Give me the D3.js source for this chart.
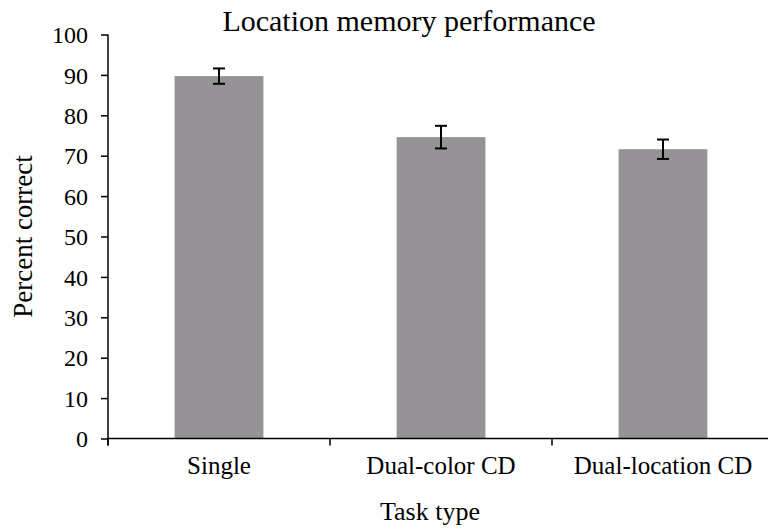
<!DOCTYPE html>
<html>
<head>
<meta charset="utf-8">
<script src="https://cdn.jsdelivr.net/npm/d3@7"></script>
<style>
  body { margin: 0; background: #fff; }
  svg text { font-family: "Liberation Serif", "Times New Roman", serif; fill: #000; }
</style>
</head>
<body>
<svg width="768" height="528"></svg>
<script>
var categories = ["Single", "Dual-color CD", "Dual-location CD"];
var values = [89.7, 74.6, 71.6];
var errors = [1.9, 2.8, 2.4];
var yTicks = [0, 10, 20, 30, 40, 50, 60, 70, 80, 90, 100];

var svg = d3.select("svg"),
    margin = {top: 34.5, right: -6, bottom: 89.5, left: 108},
    width = +svg.attr("width") - margin.left - margin.right,
    height = +svg.attr("height") - margin.top - margin.bottom,
    g = svg.append("g").attr("transform", "translate(" + margin.left + "," + margin.top + ")");

var x = d3.scaleBand()
    .domain(categories)
    .range([0, width])
    .paddingInner(0.6)
    .paddingOuter(0.3);

var y = d3.scaleLinear()
    .domain([0, 100])
    .range([height, 0]);

// bars
g.selectAll(".bar")
    .data(values)
  .enter().append("rect")
    .attr("class", "bar")
    .attr("x", function(d, i) { return x(categories[i]); })
    .attr("y", function(d) { return y(d); })
    .attr("width", x.bandwidth())
    .attr("height", function(d) { return height - y(d); })
    .attr("fill", "#959395");

// error bars
var eb = g.selectAll(".err")
    .data(values)
  .enter().append("g")
    .attr("class", "err")
    .attr("stroke", "#000")
    .attr("stroke-width", 2);

eb.append("line")
    .attr("x1", function(d, i) { return x(categories[i]) + x.bandwidth() / 2; })
    .attr("x2", function(d, i) { return x(categories[i]) + x.bandwidth() / 2; })
    .attr("y1", function(d, i) { return y(d + errors[i]); })
    .attr("y2", function(d, i) { return y(d - errors[i]); });

[1, -1].forEach(function(s) {
  eb.append("line")
      .attr("x1", function(d, i) { return x(categories[i]) + x.bandwidth() / 2 - 6; })
      .attr("x2", function(d, i) { return x(categories[i]) + x.bandwidth() / 2 + 6; })
      .attr("y1", function(d, i) { return y(d + s * errors[i]); })
      .attr("y2", function(d, i) { return y(d + s * errors[i]); });
});

// y axis
var yAxis = g.append("g")
    .call(d3.axisLeft(y).tickValues(yTicks).tickSize(7).tickPadding(13).tickSizeOuter(0));
yAxis.select(".domain").attr("d", "M0,0V" + (height + 7)).attr("stroke-width", 1.5);
yAxis.selectAll(".tick line").attr("stroke-width", 1.5);
yAxis.selectAll(".tick text")
    .style("font-size", "24px")
    .attr("dy", "0.34em");

// x axis: ticks between categories
var step = x.step();
var xb = g.append("g").attr("transform", "translate(0," + height + ")");
xb.append("line")
    .attr("x1", 0).attr("x2", width)
    .attr("stroke", "#000").attr("stroke-width", 1.5);
xb.selectAll(".xt")
    .data(d3.range(categories.length + 1))
  .enter().append("line")
    .attr("x1", function(i) { return i * step; })
    .attr("x2", function(i) { return i * step; })
    .attr("y1", 0).attr("y2", 7)
    .attr("stroke", "#000").attr("stroke-width", 1.5);
xb.selectAll(".xl")
    .data(categories)
  .enter().append("text")
    .attr("x", function(d) { return x(d) + x.bandwidth() / 2; })
    .attr("y", 35)
    .attr("text-anchor", "middle")
    .style("font-size", "25px")
    .text(function(d) { return d; });

// titles
svg.append("text")
    .attr("x", 409).attr("y", 31)
    .attr("text-anchor", "middle")
    .style("font-size", "30px")
    .text("Location memory performance");

svg.append("text")
    .attr("x", 430).attr("y", 520)
    .attr("text-anchor", "middle")
    .style("font-size", "26px")
    .text("Task type");

svg.append("text")
    .attr("transform", "translate(32," + (margin.top + height / 2) + ") rotate(-90)")
    .attr("text-anchor", "middle")
    .style("font-size", "27px")
    .text("Percent correct");
</script>
</body>
</html>
